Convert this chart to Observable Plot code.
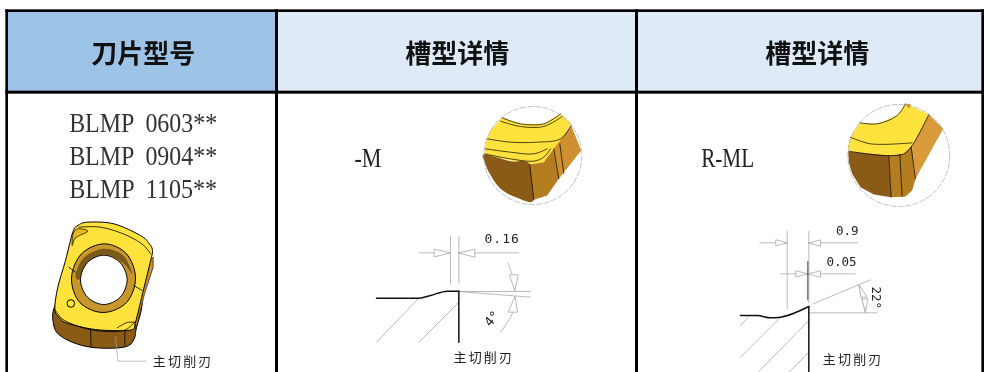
<!DOCTYPE html>
<html><head><meta charset="utf-8">
<script src="https://cdn.jsdelivr.net/npm/d3@7"></script>
<script src="https://cdn.jsdelivr.net/npm/@observablehq/plot@0.6"></script>
<style>html,body{margin:0;padding:0;background:#fff}svg{display:block;filter:blur(.3px)}</style>
</head><body><div id="c"></div>
<script>
// drawing units are 3 per reference pixel
const headers = ["刀片型号","槽型详情","槽型详情"];
const headerX = [428,1370,2450];
const headerFills = ["#9DC3E6","#DEEAF6","#DEEAF6"];
const columnEdges = [[24,825],[834,1905],[1914,2944]];
const models = ["BLMP  0603**","BLMP  0904**","BLMP  1105**"];
const modelY = [368,468,566];
const edgeLabel = "主切削刃";

const P1 = [0,0], P2 = [990,270], P3 = [2010,270];

// insert
const insBody = [[160,925],[160,975],[175,1002],[215,1025],[270,1040],[340,1043],[385,1035],[403,1010],[407,985],[425,900],[400,800],[300,800],[200,850]];
const insSide = [[445,785],[458,770],[458,800],[432,880],[407,985],[405,965]];
const insTop = [[217,695],[232,675],[262,665],[340,670],[420,705],[445,728],[456,750],[448,790],[426,880],[405,965],[393,988],[330,990],[270,985],[200,968],[175,950],[163,925],[172,860],[195,780]];
const insRing = [[312,730],[378,760],[405,833],[378,906],[308,936],[238,906],[213,833],[243,760]];
const insCres = [[225,825],[250,772],[310,745],[368,765],[395,820],[365,785],[312,762],[262,785],[240,835]];
const insHole = [[310,764],[359,786],[380,838],[359,890],[310,912],[261,890],[240,838],[261,786]];
const insSwoosh = [[215,735],[225,712],[262,692],[232,685],[218,700]];
const insLines = [
  [[235,680],[300,680],[380,705],[430,735],[450,760]],
  [[205,800],[225,815]],
  [[400,855],[425,870]],
  [[165,930],[185,955],[235,978],[300,992],[375,988],[402,965]],
  [[350,982],[380,966],[402,965]],
  [[270,988],[272,1040]],
  [[373,990],[373,1035]]
];
const insLeader = [[345,1010],[352,1082],[435,1082]];

// -M thumbnail
const mYellow = [[515,80],[570,100],[640,100],[690,70],[722,100],[680,165],[640,215],[600,222],[540,210],[462,192],[465,160],[480,120]];
const mDark = [[462,192],[540,212],[598,222],[610,328],[560,322],[510,295],[478,250],[463,215]];
const mMid = [[598,222],[640,215],[670,175],[685,265],[650,315],[610,328]];
const mRight = [[670,175],[722,105],[752,180],[685,265]];
const mLines = [
  [[515,82],[570,100],[640,100],[690,70]],
  [[510,92],[570,108],[640,108],[695,78]],
  [[470,145],[540,155],[620,155],[690,145],[722,105]],
  [[465,175],[540,185],[610,190],[650,175]],
  [[462,190],[540,205],[610,212],[640,200],[660,175]],
  [[598,222],[610,328]],
  [[670,175],[685,265]],
  [[688,160],[700,250]]
];
const mDims = [
  [[360,438],[360,578]],[[385,438],[385,578]],
  [[267,487],[360,487]],[[385,487],[565,487]],
  [[385,603],[600,603]],[[385,603],[600,620]],
  [[265,623],[138,755]],[[385,635],[265,755]]
];
const mArcs = [[[533,517],[545,555],[553,600]],[[553,620],[545,670],[510,725]]];
const mArrows = [
  [[312,476],[360,487],[312,499]],[[385,487],[433,476],[433,499]],
  [[538,553],[563,553],[553,600]],[[553,618],[533,665],[560,665]]
];
const mProfileTop = [[138,623],[265,623],[300,615],[350,602],[385,602]];
const mEdge = [[385,602],[385,755]];

// R-ML thumbnail
const rYellow = [[568,97],[620,100],[680,75],[705,40],[775,72],[725,165],[700,190],[640,195],[535,182],[533,165],[540,140]];
const rTip = [[705,40],[722,42],[715,55]];
const rDark = [[533,183],[655,195],[662,320],[610,312],[570,290],[545,250],[535,215]];
const rMid = [[655,195],[700,190],[725,165],[735,265],[725,300],[705,318],[662,320]];
const rRight = [[725,165],[775,72],[818,115],[735,265]];
const rLines = [
  [[540,140],[600,160],[725,157]],
  [[568,97],[620,100],[680,75],[705,40]],
  [[775,72],[725,165],[700,190],[640,195],[535,182]],
  [[655,195],[662,320]],
  [[688,192],[695,318]],
  [[722,170],[735,265]]
];
const rDims = [
  [[350,422],[350,655]],[[415,422],[415,637]],
  [[268,457],[350,457]],[[415,457],[562,457]],
  [[330,550],[555,550]],
  [[428,640],[600,568]],[[415,667],[620,667]],
  [[565,582],[585,667]],
  [[210,705],[235,678]],[[210,800],[330,680]],[[262,846],[415,690]],[[355,846],[415,785]]
];
const rArrows = [
  [[317,448],[350,457],[317,466]],[[415,457],[450,448],[450,466]],
  [[377,541],[412,550],[377,559]],[[412,550],[450,541],[450,559]],
  [[567,585],[590,620],[572,620]],[[575,625],[592,625],[585,665]]
];
const rProfileTop = [[210,675],[260,675],[300,682],[330,680],[415,648]];
const rEdge = [[415,648],[415,846]];
const rTick = [[412,513],[412,628]];

const ink = "#000", thin = "#a8a8a8", Y = "#FFE23C", D = "#8A5A17", M = "#B47E20", R = "#CE8F2E", R2 = "#D99A3A";

const shift = (pts,o) => pts.map(p => [p[0]+o[0], p[1]+o[1]]);
const poly = (pts,o,fill,stroke,sw,curve) => Plot.line(shift(pts,o),{x:d=>d[0],y:d=>d[1],fill,stroke:stroke||"none",strokeWidth:sw||0.8,curve:curve||"linear-closed"});
const path = (pts,o,stroke,sw,curve) => Plot.line(shift(pts,o),{x:d=>d[0],y:d=>d[1],stroke,strokeWidth:sw,curve:curve||"linear"});
const curved = "catmull-rom", closed = "cardinal-closed";
const sans = "Noto Sans CJK SC", serif = "Liberation Serif", mono = "DejaVu Sans Mono";

const note = (t,x,y,size,opts={}) => Plot.text([t],{x:()=>x,y:()=>y,text:d=>d,fontSize:size,fill:"#222",fontFamily:sans,...opts});

const marks = [
  // table
  Plot.rect(d3.range(3),{x1:i=>columnEdges[i][0],x2:i=>columnEdges[i][1],y1:()=>34,y2:()=>274,fill:i=>headerFills[i]}),
  Plot.rect([[16,24,28,1116],[825,834,28,1116],[1905,1914,28,1116],[2944,2952,28,1116],[16,2952,28,36],[16,2952,272,281]],
    {x1:d=>d[0],x2:d=>d[1],y1:d=>d[2],y2:d=>d[3],fill:"#000"}),
  Plot.text(headers,{x:(d,i)=>headerX[i],y:()=>162,text:d=>d,fontSize:26,fontWeight:600,fill:"#111",fontFamily:sans}),
  Plot.text(models,{x:()=>428,y:(d,i)=>modelY[i],text:d=>d,fontSize:27,fill:"#333",fontFamily:serif}),

  // insert
  poly(insBody,P1,D,ink,1,closed),
  poly(insSide,P1,R,ink,.6),
  poly(insTop,P1,Y,ink,1,closed),
  poly(insSwoosh,P1,"#E8B820",ink,.7,closed),
  poly(insRing,P1,"#C9962C",ink,1,closed),
  poly(insCres,P1,"#7A5A1A","none",0,closed),
  poly(insHole,P1,"#fff",ink,1,closed),
  ...insLines.map(l=>path(l,P1,ink,.8,curved)),
  Plot.dot([[211,909]],{x:d=>d[0],y:d=>d[1],r:3.8,fill:"none",stroke:ink,strokeWidth:1}),
  path(insLeader,P1,thin,.7),
  note(edgeLabel,548,1085,13),

  // -M
  note("-M",P2[0]+72,P2[1]+205,27,{textAnchor:"start",fontFamily:serif}),
  poly(mYellow,P2,Y,"none"),poly(mDark,P2,D,"none",0,closed),poly(mMid,P2,M,"none"),poly(mRight,P2,R,"none"),
  ...mLines.map(l=>path(l,P2,ink,.7,curved)),
  Plot.dot([[607,195]],{x:d=>d[0]+P2[0],y:d=>d[1]+P2[1],r:49,fill:"none",stroke:"#999",strokeWidth:.6,strokeDasharray:"6 1.5"}),
  ...mDims.map(l=>path(l,P2,thin,.8)),
  ...mArcs.map(l=>path(l,P2,thin,.8,curved)),
  ...mArrows.map(l=>poly(l,P2,"#fff",thin,.8)),
  path(mProfileTop,P2,"#111",1.5,"monotone-x"),
  path(mEdge,P2,"#111",1.5),
  Plot.text(["0.16"],{x:()=>P2[0]+515,y:()=>P2[1]+445,text:d=>d,fontSize:13,fontFamily:mono,fill:"#222"}),
  Plot.text(["4°"],{x:()=>P2[0]+485,y:()=>P2[1]+685,text:d=>d,fontSize:13,rotate:-50,fontFamily:mono,fill:"#222"}),
  note(edgeLabel,P2[0]+460,P2[1]+803,13),

  // R-ML
  poly(rYellow,P3,Y,"none"),poly(rTip,P3,R,"none"),poly(rDark,P3,D,"none"),poly(rMid,P3,M,"none"),poly(rRight,P3,R2,"none"),
  ...rLines.map(l=>path(l,P3,ink,.7,curved)),
  Plot.dot([[685,195]],{x:d=>d[0]+P3[0],y:d=>d[1]+P3[1],r:51,fill:"none",stroke:"#999",strokeWidth:.6,strokeDasharray:"6 1.5"}),
  ...rDims.map(l=>path(l,P3,thin,.8)),
  ...rArrows.map(l=>poly(l,P3,"#fff",thin,.8)),
  path(rTick,P3,"#444",1),
  path(rProfileTop,P3,"#111",1.5,"monotone-x"),
  path(rEdge,P3,"#111",1.5),
  Plot.text(["0.9"],{x:()=>P3[0]+530,y:()=>P3[1]+420,text:d=>d,fontSize:12.5,fontFamily:mono,fill:"#222"}),
  Plot.text(["0.05"],{x:()=>P3[0]+513,y:()=>P3[1]+513,text:d=>d,fontSize:12.5,fontFamily:mono,fill:"#222"}),
  Plot.text(["22°"],{x:()=>P3[0]+615,y:()=>P3[1]+622,text:d=>d,fontSize:12.5,rotate:90,fontFamily:mono,fill:"#222"}),
  note("R-ML",P3[0]+92,P3[1]+205,27,{textAnchor:"start",fontFamily:serif}),
  note(edgeLabel,P3[0]+548,P3[1]+808,13)
];
const plot = Plot.plot({
  width:984,height:372,margin:0,
  x:{domain:[0,2952],range:[0,984],axis:null},
  y:{domain:[0,1116],range:[0,372],axis:null},
  style:{background:"#fff"},
  marks
});
document.getElementById("c").append(plot);
// text fit, which Plot has no channel for
d3.select(plot).selectAll("text").each(function(){
  const t = this.textContent, s = d3.select(this);
  const squeeze = w => s.attr("textLength",w).attr("lengthAdjust","spacingAndGlyphs");
  if (t === edgeLabel) s.style("letter-spacing","2.2px");
  else if (t.startsWith("BLMP")) squeeze(148);
  else if (t === "-M") squeeze(27);
  else if (t === "R-ML") squeeze(53);
  else if (t === "0.16") s.style("letter-spacing","1px");
});
</script></body></html>
